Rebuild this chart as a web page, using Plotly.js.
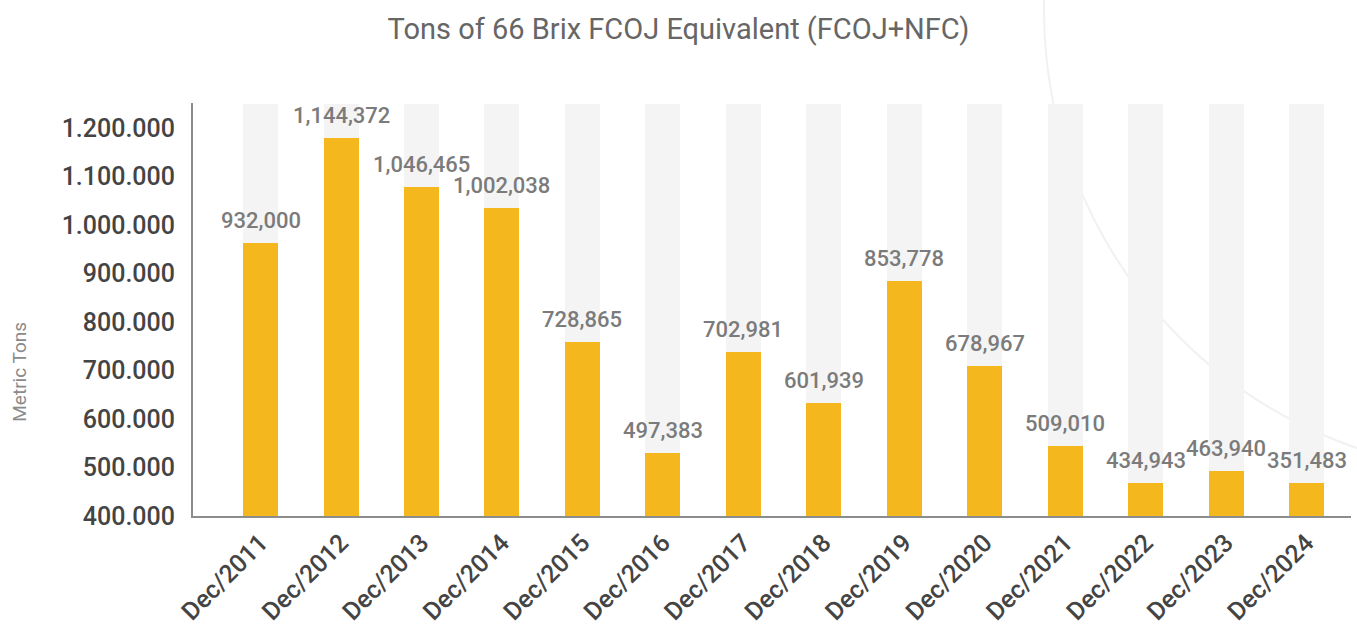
<!DOCTYPE html>
<html>
<head>
<meta charset="utf-8">
<script src="https://cdn.plot.ly/plotly-3.0.1.min.js"></script>
<style>
html,body{margin:0;padding:0;background:#fff;}
#chart{width:1357px;height:630px;}
</style>
</head>
<body>
<div id="chart"></div>
<script>
// ---- data ----
const categories = ["Dec/2011","Dec/2012","Dec/2013","Dec/2014","Dec/2015","Dec/2016","Dec/2017","Dec/2018","Dec/2019","Dec/2020","Dec/2021","Dec/2022","Dec/2023","Dec/2024"];
// bar heights as drawn in the reference
const barValues = [963000,1179000,1078000,1035000,759000,530000,738000,633000,885000,709000,544000,468000,493000,468000];
// labels printed above the bars in the reference
const labelValues = [932000,1144372,1046465,1002038,728865,497383,702981,601939,853778,678967,509010,434943,463940,351483];
// light background columns (full height)
const backgroundTop = [1250000,1250000,1250000,1250000,1250000,1250000,1250000,1250000,1250000,1250000,1250000,1250000,1250000,1250000];
const yTickVals = [400000,500000,600000,700000,800000,900000,1000000,1100000,1200000];
const yTickText = ["400.000","500.000","600.000","700.000","800.000","900.000","1.000.000","1.100.000","1.200.000"];

const FONT = 'Roboto, "DejaVu Sans Condensed", sans-serif';
const fmt = v => v.toLocaleString('en-US');

const traces = [
  {type:'bar', x:categories, y:backgroundTop, marker:{color:'#f4f4f4'}, width:0.435, hoverinfo:'skip', showlegend:false},
  {type:'bar', x:categories, y:barValues, marker:{color:'#f4b71e'}, width:0.435, showlegend:false}
];

const annotations = categories.map((c,i)=>({
  x:c, y:barValues[i], xref:'x', yref:'y', text:fmt(labelValues[i]),
  showarrow:false, yanchor:'bottom', yshift:8,
  font:{family:FONT, size:22, color:'#7b7b7b', weight:500}
}));
annotations.push({
  text:'Metric Tons', xref:'paper', yref:'paper', x:-0.15, y:0.35, textangle:-90,
  showarrow:false, xanchor:'center', yanchor:'middle',
  font:{family:FONT, size:19, color:'#8a8a8a'}
});

const layout = {
  width:1357, height:630,
  margin:{l:193, r:6, t:103, b:114},
  paper_bgcolor:'#fff', plot_bgcolor:'rgba(0,0,0,0)',
  barmode:'overlay', bargap:0,
  title:{text:'Tons of 66 Brix FCOJ Equivalent (FCOJ+NFC)', x:0.5, xref:'container', xanchor:'center',
    y:0.955, yref:'container', yanchor:'middle',
    font:{family:FONT, size:29, color:'#666666'}},
  xaxis:{type:'category', range:[-0.84,13.553], tickangle:-45, showgrid:false, zeroline:false,
    showline:true, linecolor:'#8c8c8c', linewidth:2, ticks:'',
    tickfont:{family:FONT, size:25, color:'#444444', weight:500}},
  yaxis:{range:[400000,1252000], tickvals:yTickVals, ticktext:yTickText, showgrid:false, zeroline:false,
    showline:true, linecolor:'#8c8c8c', linewidth:2, ticks:'', ticklabelstandoff:11,
    tickfont:{family:FONT, size:25, color:'#444444', weight:500}},
  annotations:annotations,
  shapes:[{type:'circle', xref:'paper', yref:'paper', layer:'below',
    x0:0.7349, x1:1.5345, y0:0.104, y1:2.346, line:{color:'#f1f1f1', width:2}}],
  showlegend:false
};

Plotly.newPlot('chart', traces, layout, {displayModeBar:false, staticPlot:true});
</script>
</body>
</html>
